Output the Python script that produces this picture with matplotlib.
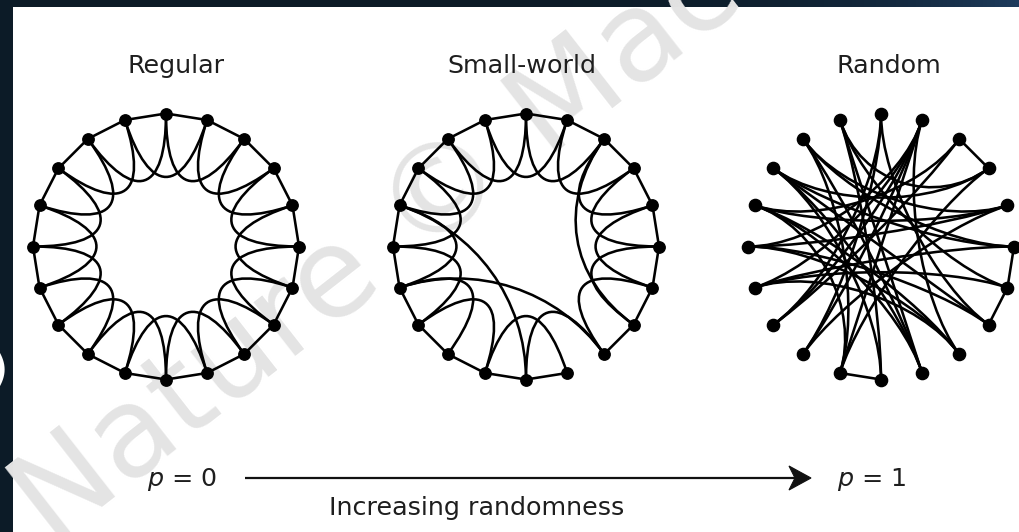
import numpy as np
import matplotlib
matplotlib.use("Agg")
import matplotlib.pyplot as plt
from matplotlib.path import Path
from matplotlib.patches import PathPatch, Rectangle, Polygon

# ---------------- data ----------------
N_NODES = 20
PANEL_TITLES = ["Regular", "Small-world", "Random"]

REGULAR_EDGES = [
    (0, 1), (1, 2), (2, 3), (3, 4), (4, 5), (5, 6), (6, 7), (7, 8), (8, 9), (9, 10),
    (10, 11), (11, 12), (12, 13), (13, 14), (14, 15), (15, 16), (16, 17), (17, 18), (18, 19), (19, 0),
    (0, 2), (1, 3), (2, 4), (3, 5), (4, 6), (5, 7), (6, 8), (7, 9), (8, 10), (9, 11),
    (10, 12), (11, 13), (12, 14), (13, 15), (14, 16), (15, 17), (16, 18), (17, 19), (18, 0), (19, 1),
]

SMALL_WORLD_EDGES = [
    (0, 1), (1, 2), (2, 3), (3, 4), (4, 5), (5, 6), (6, 7), (7, 8), (8, 14), (9, 10),
    (10, 11), (11, 12), (12, 13), (13, 14), (14, 15), (15, 16), (16, 17), (17, 18), (18, 19), (19, 0),
    (0, 2), (1, 3), (2, 4), (3, 5), (4, 6), (5, 7), (6, 8), (7, 2), (8, 10), (9, 11),
    (10, 16), (11, 13), (12, 14), (13, 15), (14, 16), (15, 17), (16, 18), (17, 19), (18, 0), (19, 1),
]

RANDOM_EDGES = [
    (2, 3), (5, 6), (6, 7), (10, 11),
    (0, 12), (0, 7),
    (19, 3), (19, 6), (19, 9),
    (1, 12), (1, 15), (1, 11), (1, 13),
    (18, 9), (18, 5), (18, 4),
    (17, 5), (17, 7), (17, 3),
    (16, 4), (16, 9), (16, 2),
    (15, 7), (15, 4), (15, 8),
    (14, 5), (14, 6), (14, 1),
    (13, 2), (13, 0),
    (12, 4),
    (11, 3), (11, 16), (11, 18),
    (10, 19), (10, 17),
    (9, 17), (8, 14),
    (8, 1), (8, 16),
]

P_LABELS = ["0", "1"]
ARROW_LABEL = "Increasing randomness"
WATERMARK = "Nature \u00a9 Macmillan"

# ---------------- layout ----------------
W, H = 1019, 532
fig = plt.figure(figsize=(W / 100, H / 100), dpi=100, facecolor="#0c1b27")
ax = fig.add_axes([0, 0, 1, 1])
ax.set_xlim(0, W)
ax.set_ylim(H, 0)
ax.axis("off")

# top band gradient
grad = np.linspace(0, 1, 256)[None, :] ** 6
ax.imshow(grad, extent=(0, W, 7, 0), cmap=matplotlib.colors.LinearSegmentedColormap.from_list(
    "bg", ["#0c1b27", "#1d3b5c"]), aspect="auto", zorder=0)
ax.add_patch(Rectangle((13, 7), W - 13, H - 7, facecolor="white", edgecolor="none", zorder=1))

# cut-off label glyph at left edge
ax.text(8, 372, ")", color="white", fontsize=34, fontweight="bold", ha="right", va="center",
        zorder=2, family="DejaVu Sans")

# watermark
wm = ax.text(52, 546, WATERMARK, color="#e4e4e4", fontsize=90, rotation=38, rotation_mode="anchor",
             ha="left", va="baseline", zorder=1.5, family="DejaVu Sans")
wm.set_clip_path(Rectangle((13, 7), W - 13, H - 7, transform=ax.transData))

CENTERS = [(166, 246.5), (526, 246.5), (881, 246.5)]
RADIUS = 133
HANDLES = [0.6, 0.6, 0.5]
LW = 1.85


def node_xy(c, i):
    th = 2 * np.pi * i / N_NODES
    return np.array([c[0] + RADIUS * np.sin(th), c[1] - RADIUS * np.cos(th)])


def draw_graph(c, edges, ms, handle):
    c = np.array(c, dtype=float)
    for a, b in edges:
        p0, p1 = node_xy(c, a), node_xy(c, b)
        d = min((a - b) % N_NODES, (b - a) % N_NODES)
        if d == 1:
            path = Path([p0, p1], [Path.MOVETO, Path.LINETO])
        else:
            c1 = p0 + handle * (c - p0)
            c2 = p1 + handle * (c - p1)
            path = Path([p0, c1, c2, p1], [Path.MOVETO, Path.CURVE4, Path.CURVE4, Path.CURVE4])
        ax.add_patch(PathPatch(path, facecolor="none", edgecolor="black", lw=LW,
                               capstyle="round", zorder=3))
    pts = np.array([node_xy(c, i) for i in range(N_NODES)])
    ax.plot(pts[:, 0], pts[:, 1], "o", color="black", ms=ms, zorder=4)


for c, e, ms, h in zip(CENTERS, [REGULAR_EDGES, SMALL_WORLD_EDGES, RANDOM_EDGES],
                       [8.2, 8.2, 8.8], HANDLES):
    draw_graph(c, e, ms, h)

TITLE_X = [176, 522, 889]
FS = 18.3
for x, t in zip(TITLE_X, PANEL_TITLES):
    ax.text(x, 73, t, fontsize=FS, ha="center", va="baseline", color="#1e1e1e",
            family="DejaVu Sans", zorder=5)

# arrow
ay = 478
x0, x1 = 245, 811
ax.plot([x0, x1 - 14], [ay, ay], color="#111111", lw=1.6, zorder=5, solid_capstyle="butt")
head = Polygon([[x1, ay], [x1 - 22, ay - 12], [x1 - 16, ay], [x1 - 22, ay + 12]],
               closed=True, facecolor="#111111", edgecolor="#111111", lw=0.8, zorder=5)
ax.add_patch(head)

for x, v in zip([147, 837], P_LABELS):
    ax.text(x, 486, r"$p$ = " + v, fontsize=FS, ha="left", va="baseline", color="#1e1e1e",
            family="DejaVu Sans", zorder=5)

ax.text(477, 515, ARROW_LABEL, fontsize=FS, ha="center", va="baseline", color="#1e1e1e",
        family="DejaVu Sans", zorder=5)

fig.savefig("out.png", dpi=100, facecolor=fig.get_facecolor())
